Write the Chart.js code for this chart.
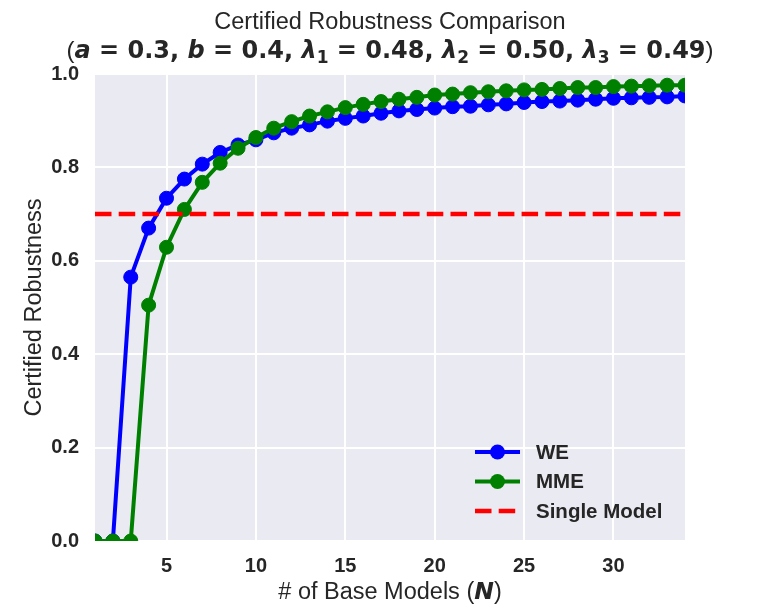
<!DOCTYPE html>
<html lang="en">
<head>
<meta charset="UTF-8">
<title>Certified Robustness Comparison</title>
<script src="https://cdn.jsdelivr.net/npm/chart.js@4.4.1/dist/chart.umd.min.js"></script>
<style>
  body { margin: 0; background: #fff; }
  #wrap { width: 761px; height: 609px; }
</style>
</head>
<body>
<div id="wrap"><canvas id="myChart" width="761" height="609"></canvas></div>
<script>
// number of base models N
var nValues = [1, 2, 3, 4, 5, 6, 7, 8, 9, 10, 11, 12, 13, 14, 15, 16, 17,
               18, 19, 20, 21, 22, 23, 24, 25, 26, 27, 28, 29, 30, 31, 32, 33, 34];
var weValues = [0, 0, 0.565, 0.670, 0.734, 0.775, 0.807, 0.832, 0.848, 0.859,
                0.874, 0.884, 0.891, 0.899, 0.905, 0.910, 0.916, 0.921, 0.924, 0.927,
                0.930, 0.931, 0.934, 0.936, 0.939, 0.941, 0.942, 0.944, 0.946, 0.948,
                0.949, 0.950, 0.951, 0.953];
var mmeValues = [0, 0, 0, 0.505, 0.629, 0.710, 0.768, 0.809, 0.841, 0.864,
                 0.884, 0.898, 0.910, 0.919, 0.928, 0.935, 0.941, 0.946, 0.950, 0.955,
                 0.957, 0.960, 0.962, 0.964, 0.966, 0.967, 0.969, 0.971, 0.971, 0.973,
                 0.974, 0.975, 0.976, 0.976];
var singleModel = 0.70;
var xTicks = [5, 10, 15, 20, 25, 30];
var yTicks = [0, 0.2, 0.4, 0.6, 0.8, 1.0];

var TXT = '#262626';
var SANS = '"Liberation Sans", Arial, sans-serif';
var DJ = '"DejaVu Sans", sans-serif';

function pts(vals) {
    return nValues.map(function (n, i) { return {x: n, y: vals[i]}; });
}

function drawRich(ctx, parts, cx, base) {
    var total = 0;
    parts.forEach(function (p) {
        ctx.font = p[1];
        p.w = ctx.measureText(p[0]).width;
        total += p.w;
    });
    var x = cx - total / 2;
    ctx.textAlign = 'left';
    ctx.textBaseline = 'alphabetic';
    parts.forEach(function (p) {
        ctx.font = p[1];
        ctx.fillText(p[0], x, base + (p[2] || 0));
        x += p.w;
    });
}

var decor = {
    id: 'decor',
    beforeDraw: function (chart) {
        var ctx = chart.ctx, a = chart.chartArea;
        ctx.save();
        ctx.fillStyle = '#fff';
        ctx.fillRect(0, 0, chart.width, chart.height);
        ctx.fillStyle = '#EAEAF2';
        ctx.fillRect(a.left, a.top, a.right - a.left, a.bottom - a.top);
        ctx.restore();
    },
    afterDraw: function (chart) {
        var ctx = chart.ctx, a = chart.chartArea;
        var cx = (a.left + a.right) / 2;
        ctx.save();
        ctx.fillStyle = TXT;

        // title
        ctx.font = '23.5px ' + SANS;
        ctx.textAlign = 'center';
        ctx.textBaseline = 'alphabetic';
        ctx.fillText('Certified Robustness Comparison', cx, 29);
        var R = '23.5px ' + SANS, P = '24px ' + SANS, B = 'bold 24px ' + DJ,
            BI = 'italic bold 24px ' + DJ, S = 'bold 17px ' + DJ;
        drawRich(ctx, [
            ['(', P], ['a', BI], [' = 0.3, ', B], ['b', BI], [' = 0.4, ', B],
            ['\u03bb', BI], ['1', S, 5], [' = 0.48, ', B],
            ['\u03bb', BI], ['2', S, 5], [' = 0.50, ', B],
            ['\u03bb', BI], ['3', S, 5], [' = 0.49', B], [')', P]
        ], cx, 58);

        // x axis title
        drawRich(ctx, [['# of Base Models (', R], ['N', 'italic bold 23.5px ' + DJ], [')', R]], cx, 599);

        // y axis title
        ctx.save();
        ctx.translate(41, (a.top + a.bottom) / 2);
        ctx.rotate(-Math.PI / 2);
        ctx.font = R;
        ctx.textAlign = 'center';
        ctx.fillText('Certified Robustness', 0, 0);
        ctx.restore();

        // legend
        var rows = [452, 481.5, 511];
        chart.data.datasets.forEach(function (ds, i) {
            var y = rows[i];
            ctx.save();
            ctx.strokeStyle = ds.borderColor;
            ctx.lineWidth = ds.borderWidth;
            ctx.setLineDash(ds.borderDash || []);
            ctx.beginPath();
            ctx.moveTo(475, y);
            ctx.lineTo(520, y);
            ctx.stroke();
            if (ds.pointRadius > 0) {
                ctx.fillStyle = ds.borderColor;
                ctx.beginPath();
                ctx.arc(497.5, y, ds.pointRadius + 0.5, 0, Math.PI * 2);
                ctx.fill();
            }
            ctx.restore();
            ctx.font = 'bold 20.5px ' + SANS;
            ctx.textAlign = 'left';
            ctx.textBaseline = 'middle';
            ctx.fillText(ds.label, 536, y + 1);
        });
        ctx.restore();
    }
};

var ctx = document.querySelector('#myChart').getContext('2d');
new Chart(ctx, {
    type: 'line',
    data: {
        datasets: [{
            label: 'WE',
            data: pts(weValues),
            borderColor: '#0000FF',
            backgroundColor: '#0000FF',
            borderWidth: 4,
            pointRadius: 7,
            pointBorderWidth: 1,
            order: 3,
            clip: 0
        }, {
            label: 'MME',
            data: pts(mmeValues),
            borderColor: '#008000',
            backgroundColor: '#008000',
            borderWidth: 4,
            pointRadius: 7,
            pointBorderWidth: 1,
            order: 2,
            clip: 0
        }, {
            label: 'Single Model',
            data: [{x: nValues[0], y: singleModel}, {x: nValues[nValues.length - 1], y: singleModel}],
            borderColor: '#FF0000',
            borderWidth: 4.5,
            borderDash: [16.5, 7.2],
            pointRadius: 0,
            order: 1,
            clip: 0
        }]
    },
    options: {
        responsive: false,
        animation: false,
        events: [],
        layout: {padding: {left: 0, right: 76, top: 74, bottom: 0}},
        plugins: {legend: {display: false}, tooltip: {enabled: false}, title: {display: false}},
        scales: {
            x: {
                type: 'linear',
                min: 1,
                max: 34,
                afterBuildTicks: function (s) { s.ticks = xTicks.map(function (v) { return {value: v}; }); },
                afterFit: function (s) { s.height = 68; },
                border: {display: false},
                grid: {color: '#fff', lineWidth: 2, drawTicks: false},
                ticks: {color: TXT, padding: 13, font: {family: SANS, size: 20, weight: 'bold'}, maxRotation: 0}
            },
            y: {
                min: 0,
                max: 1,
                afterBuildTicks: function (s) { s.ticks = yTicks.map(function (v) { return {value: v}; }); },
                afterFit: function (s) { s.width = 95; },
                border: {display: false},
                grid: {color: '#fff', lineWidth: 2, drawTicks: false},
                ticks: {color: TXT, padding: 16, font: {family: SANS, size: 20, weight: 'bold'},
                        callback: function (v) { return v.toFixed(1); }}
            }
        }
    },
    plugins: [decor]
});
</script>
</body>
</html>
